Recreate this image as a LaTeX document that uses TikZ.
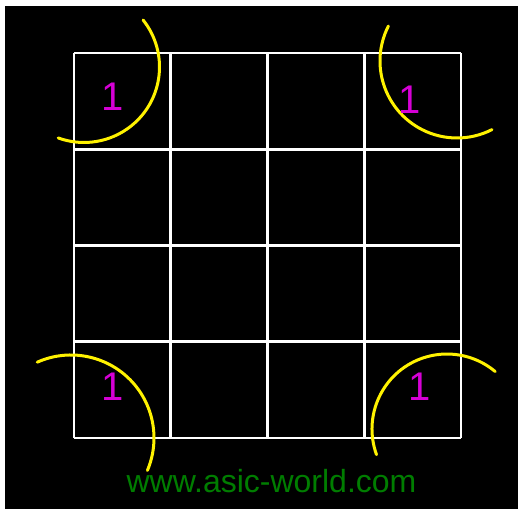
\documentclass[tikz,border=0pt]{standalone}
\usepackage{fontspec}
\setmainfont{Liberation Sans}
\definecolor{onemag}{RGB}{214,0,214}
\definecolor{sitegreen}{RGB}{0,125,0}
\begin{document}
\begin{tikzpicture}[x=1pt, y=1pt,
    cell/.style={draw=white, line width=2.8pt},
    loop/.style={draw=yellow, line width=3pt, line cap=round},
    one/.style={text=onemag, font=\fontsize{40}{40}\selectfont, inner sep=0pt}]
  \useasboundingbox (0,0) rectangle (518,509);
  \fill[white] (0,0) rectangle (518,509);
  \fill[black] (5,0) rectangle (518,503);
  % 4x4 map
  \foreach \i in {0,...,4} {
    \draw[cell] (74+96.75*\i,71) -- (74+96.75*\i,456);
    \draw[cell] (74,71+96.25*\i) -- (461,71+96.25*\i);
  }
  % groupings of the corner cells
  \coordinate (tl) at (84,442);
  \coordinate (tr) at (457,448);
  \coordinate (bl) at (71,71);
  \coordinate (br) at (447,80);
  \draw[loop] ([shift={(38.5:75.5)}]tl) arc[start angle=38.5, end angle=-110, radius=75.5];
  \draw[loop] ([shift={(153:77)}]tr) arc[start angle=153, end angle=297, radius=77];
  \draw[loop] ([shift={(114:83)}]bl) arc[start angle=114, end angle=-23, radius=83];
  \draw[loop] ([shift={(200:75)}]br) arc[start angle=200, end angle=50, radius=75];
  \node[one] (one tl) at (113,412) {1};
  \node[one] (one tr) at (410,409) {1};
  \node[one] (one bl) at (113,122) {1};
  \node[one] (one br) at (420,122) {1};
  \node[text=sitegreen, font=\fontsize{32}{32}\selectfont, anchor=base, inner sep=0pt] (site) at (271.5,17) {www.asic-world.com};
\end{tikzpicture}
\end{document}
